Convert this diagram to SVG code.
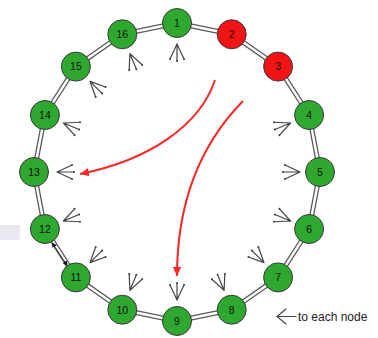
<svg xmlns="http://www.w3.org/2000/svg" xmlns:xlink="http://www.w3.org/1999/xlink" width="378" height="338" viewBox="0 0 378 338">
<style>
.rail-o{fill:none;stroke:#5a5a5a;stroke-width:5;stroke-linejoin:round}
.rail-i{fill:none;stroke:#ffffff;stroke-width:2.4;stroke-linejoin:round}
.g{fill:#2fa82f;stroke:#3a3a3a;stroke-width:1}
.r{fill:#f01414;stroke:#3a3a3a;stroke-width:1}
.lbl{font-family:"Liberation Sans",Arial,sans-serif;font-size:10.5px;fill:#111;text-anchor:middle}
.fan{fill:none;stroke:#444;stroke-width:1.2;stroke-linecap:round}
.red{fill:none;stroke:#ff2626;stroke-width:2}
.legend{font-family:"Liberation Sans",Arial,sans-serif;font-size:12px;fill:#222}
</style>
<defs>
<marker id="rh" markerWidth="10" markerHeight="10" refX="9" refY="5" orient="auto" markerUnits="userSpaceOnUse">
<path d="M0,0.8 L9,5 L0,9.2 Z" fill="#ff2626"/>
</marker>
<marker id="bh" markerWidth="6" markerHeight="6" refX="5" refY="3" orient="auto-start-reverse" markerUnits="userSpaceOnUse">
<path d="M0,0.5 L5,3 L0,5.5 Z" fill="#111"/>
</marker>
<g id="fan">
<path class="fan" d="M0,0 L-7,15 M0,0 L0,17 M0,0 L7,15"/>
<circle cx="-7" cy="15" r="1" fill="#444"/>
<circle cx="0" cy="17" r="1" fill="#444"/>
<circle cx="7" cy="15" r="1" fill="#444"/>
</g>
</defs>
<rect width="378" height="338" fill="#ffffff"/>
<rect x="0" y="225" width="20" height="15" fill="#e9e9f1"/>
<g id="connectors">
<polygon class="rail-o" points="177,23 231.7,34.3 278.1,66.6 309.1,115 320,172 309.1,229 278.1,277.4 231.7,309.7 177,321 122.3,309.7 75.9,277.4 44.9,229 34,172 44.9,115 75.9,66.6 122.3,34.3"/>
<polygon class="rail-i" points="177,23 231.7,34.3 278.1,66.6 309.1,115 320,172 309.1,229 278.1,277.4 231.7,309.7 177,321 122.3,309.7 75.9,277.4 44.9,229 34,172 44.9,115 75.9,66.6 122.3,34.3"/>
<line x1="52" y1="242.5" x2="67.5" y2="266" stroke="#111" stroke-width="0.8" marker-start="url(#bh)" marker-end="url(#bh)"/>
<path class="red" d="M215,80 C200,125 150,160 80,174" marker-end="url(#rh)"/>
<path class="red" d="M243,101 C195,150 177,210 177,276" marker-end="url(#rh)"/>
<g id="fans">
<use xlink:href="#fan" transform="translate(177,43.9)"/>
<use xlink:href="#fan" transform="translate(290.6,123) rotate(67.5)"/>
<use xlink:href="#fan" transform="translate(300,172) rotate(90)"/>
<use xlink:href="#fan" transform="translate(290.6,221) rotate(112.5)"/>
<use xlink:href="#fan" transform="translate(264,262.6) rotate(135)"/>
<use xlink:href="#fan" transform="translate(224.1,290.4) rotate(157.5)"/>
<use xlink:href="#fan" transform="translate(177,300.1) rotate(180)"/>
<use xlink:href="#fan" transform="translate(129.9,290.4) rotate(202.5)"/>
<use xlink:href="#fan" transform="translate(90,262.6) rotate(225)"/>
<use xlink:href="#fan" transform="translate(63.4,221) rotate(247.5)"/>
<use xlink:href="#fan" transform="translate(57,172) rotate(270)"/>
<use xlink:href="#fan" transform="translate(63.4,123) rotate(292.5)"/>
<use xlink:href="#fan" transform="translate(90,81.4) rotate(315)"/>
<use xlink:href="#fan" transform="translate(129.9,53.6) rotate(337.5)"/>
</g>
</g>
<g id="n1"><circle class="g" cx="177" cy="23" r="14.5"/><text class="lbl" x="177" y="26.8">1</text></g>
<g id="n2"><circle class="r" cx="231.7" cy="34.3" r="14.5"/><text class="lbl" x="231.7" y="38.1">2</text></g>
<g id="n3"><circle class="r" cx="278.1" cy="66.6" r="14.5"/><text class="lbl" x="278.1" y="70.4">3</text></g>
<g id="n4"><circle class="g" cx="309.1" cy="115" r="14.5"/><text class="lbl" x="309.1" y="118.8">4</text></g>
<g id="n5"><circle class="g" cx="320" cy="172" r="14.5"/><text class="lbl" x="320" y="175.8">5</text></g>
<g id="n6"><circle class="g" cx="309.1" cy="229" r="14.5"/><text class="lbl" x="309.1" y="232.8">6</text></g>
<g id="n7"><circle class="g" cx="278.1" cy="277.4" r="14.5"/><text class="lbl" x="278.1" y="281.2">7</text></g>
<g id="n8"><circle class="g" cx="231.7" cy="309.7" r="14.5"/><text class="lbl" x="231.7" y="313.5">8</text></g>
<g id="n9"><circle class="g" cx="177" cy="321" r="14.5"/><text class="lbl" x="177" y="324.8">9</text></g>
<g id="n10"><circle class="g" cx="122.3" cy="309.7" r="14.5"/><text class="lbl" x="122.3" y="313.5">10</text></g>
<g id="n11"><circle class="g" cx="75.9" cy="277.4" r="14.5"/><text class="lbl" x="75.9" y="281.2">11</text></g>
<g id="n12"><circle class="g" cx="44.9" cy="229" r="14.5"/><text class="lbl" x="44.9" y="232.8">12</text></g>
<g id="n13"><circle class="g" cx="34" cy="172" r="14.5"/><text class="lbl" x="34" y="175.8">13</text></g>
<g id="n14"><circle class="g" cx="44.9" cy="115" r="14.5"/><text class="lbl" x="44.9" y="118.8">14</text></g>
<g id="n15"><circle class="g" cx="75.9" cy="66.6" r="14.5"/><text class="lbl" x="75.9" y="70.4">15</text></g>
<g id="n16"><circle class="g" cx="122.3" cy="34.3" r="14.5"/><text class="lbl" x="122.3" y="38.1">16</text></g>
<g id="legend">
<path class="fan" d="M286,309 L277,316.5 L286,324 M277,316.5 L296,316.5"/>
<text class="legend" x="298" y="320.5">to each node</text>
</g>
</svg>
